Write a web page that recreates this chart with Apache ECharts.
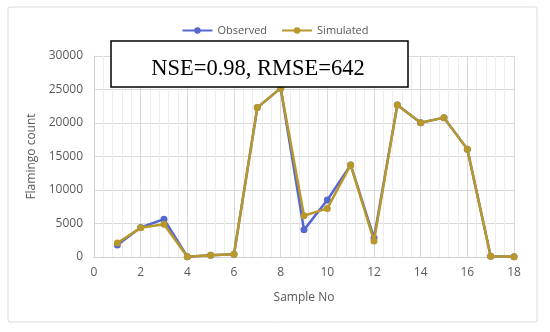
<!DOCTYPE html>
<html>
<head>
<meta charset="utf-8">
<script src="https://cdn.jsdelivr.net/npm/echarts@6/dist/echarts.min.js"></script>
<style>html,body{margin:0;padding:0;background:#fff}#c{width:550px;height:332px}</style>
</head>
<body>
<div id="c"></div>
<script>
const samples = [1,2,3,4,5,6,7,8,9,10,11,12,13,14,15,16,17,18];
const observed = [1800,4400,5650,50,250,400,22300,25200,4050,8500,13750,2850,22700,20050,20800,16100,100,50];
const simulated = [2100,4350,4900,50,250,400,22300,25200,6150,7250,13750,2400,22700,20050,20800,16100,100,50];
const statsText = 'NSE=0.98, RMSE=642';

const chart = echarts.init(document.getElementById('c'));
const labelFont = {color:'#595959', fontFamily:'Open Sans', fontSize:12};
chart.setOption({
  animation:false,
  backgroundColor:'#fff',
  grid:{left:94, right:36, top:56, bottom:75},
  legend:{
    top:20, left:'center', itemWidth:30, itemHeight:8, itemGap:14,
    textStyle:{color:'#595959', fontFamily:'Open Sans', fontSize:11},
    data:['Observed','Simulated']
  },
  xAxis:{
    type:'value', min:0, max:18, interval:2,
    name:'Sample No', nameLocation:'middle', nameGap:35,
    nameTextStyle:{color:'#595959', fontFamily:'Open Sans', fontSize:12},
    axisLine:{show:true, lineStyle:{color:'#d0d0d0'}},
    axisTick:{show:false},
    axisLabel:Object.assign({margin:10, formatter:v=>String(v)}, labelFont),
    splitLine:{show:true, lineStyle:{color:'#d9d9d9'}},
    minorTick:{show:false, splitNumber:5},
    minorSplitLine:{show:true, lineStyle:{color:'#ececec'}}
  },
  yAxis:{
    type:'value', min:0, max:30000, interval:5000,
    name:'Flamingo count', nameLocation:'middle', nameGap:55,
    nameTextStyle:{color:'#595959', fontFamily:'Open Sans', fontSize:12},
    axisLine:{show:true, lineStyle:{color:'#d0d0d0'}},
    axisTick:{show:false},
    axisLabel:Object.assign({margin:11, formatter:v=>String(v)}, labelFont),
    splitLine:{show:true, lineStyle:{color:'#d9d9d9'}}
  },
  series:[
    {name:'Observed', type:'line', data:samples.map((s,i)=>[s,observed[i]]),
     color:'#5468cf', symbol:'circle', symbolSize:7, lineStyle:{width:2.5}, z:2},
    {name:'Simulated', type:'line', data:samples.map((s,i)=>[s,simulated[i]]),
     color:'#b8972b', symbol:'circle', symbolSize:7, lineStyle:{width:2.5}, z:3}
  ],
  graphic:[
    {type:'rect', shape:{x:8, y:7, width:529, height:315, r:2}, style:{fill:null, stroke:'#d9d9d9', lineWidth:1}, z:0, silent:true},
    {type:'rect', shape:{x:111, y:41, width:297, height:46}, style:{fill:'#fff', stroke:'#000', lineWidth:1.5}, z:100},
    {type:'text', x:258, y:69, style:{text:statsText, font:'22.5px "Liberation Serif"', fill:'#000', textAlign:'center', textVerticalAlign:'middle'}, z:101}
  ]
});
</script>
</body>
</html>
